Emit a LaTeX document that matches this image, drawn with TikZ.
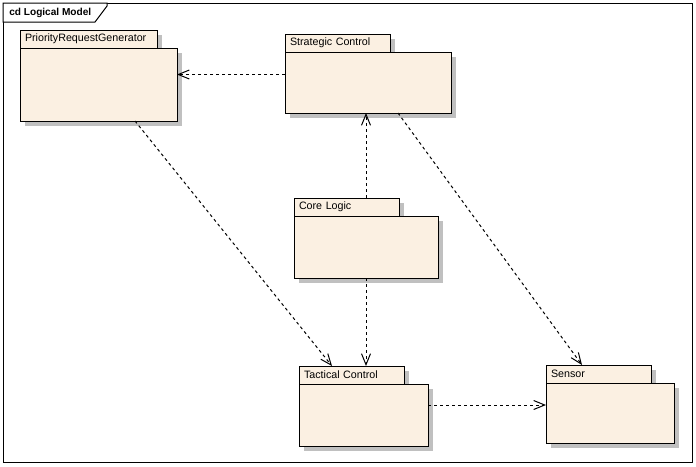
\documentclass[tikz,border=0pt]{standalone}
\usepackage{fontspec}
\setmainfont{Liberation Sans}
\usepackage{xcolor}
\usepackage{tikz}
\usetikzlibrary{arrows.meta,positioning,shadows}
\definecolor{pkgfill}{RGB}{251,240,226}
\definecolor{pkgshade}{RGB}{192,192,192}

\begin{document}
\begin{tikzpicture}[x=1pt,y=-1pt, line width=1pt,
  every node/.style={font=\fontsize{10.7}{13}\selectfont},
  pkgshadow/.style={drop shadow={shadow xshift=4.5pt,shadow yshift=-4.5pt,fill=pkgshade,opacity=1}},
  pkgtab/.style={draw, fill=pkgfill, pkgshadow, anchor=north west, inner xsep=5pt, inner ysep=0pt, outer sep=0pt, minimum height=18pt, text width=95pt, align=left},
  pkgbody/.style={draw, fill=pkgfill, pkgshadow, inner sep=0pt, outer sep=0pt},
  dep/.style={dash pattern=on 3pt off 3pt, -{Straight Barb[length=11pt,width=9pt]}}]
\useasboundingbox (0,0) rectangle (696,466);
\draw (3,3) rectangle (692,462);
\draw[fill=white] (3,3) -- (107,3) -- (107,6) -- (95,22) -- (3,22) -- cycle;
\node[anchor=west, font=\fontsize{10.1}{12}\selectfont\bfseries] (title) at (5.5,12.5) {cd Logical Model};

\node[pkgtab, text width=127pt] (prgtab) at (20,30) {PriorityRequestGenerator};
\node[pkgbody, minimum width=157pt, minimum height=73pt, below right=0pt and 0pt of prgtab.south west] (prg) {};
\node[pkgtab] (strattab) at (285,34) {Strategic Control};
\node[pkgbody, minimum width=166pt, minimum height=61pt, below right=0pt and 0pt of strattab.south west] (strat) {};
\node[pkgtab] (coretab) at (294,198) {Core Logic};
\node[pkgbody, minimum width=144pt, minimum height=62pt, below right=0pt and 0pt of coretab.south west] (core) {};
\node[pkgtab] (tactab) at (299,366) {Tactical Control};
\node[pkgbody, minimum width=129pt, minimum height=62pt, below right=0pt and 0pt of tactab.south west] (tac) {};
\node[pkgtab] (sensortab) at (546,365) {Sensor};
\node[pkgbody, minimum width=128pt, minimum height=60pt, below right=0pt and 0pt of sensortab.south west] (sensor) {};

\draw[dep] ([yshift=8pt]strat.west) -- ([yshift=8pt]strat.west -| prg.east);
\draw[dep] (coretab.north -| core.north) -- (strat.south -| core.north);
\draw[dep] (core.south) -- (core.south |- tactab.north);
\draw[dep] ([xshift=-42pt]prg.south east) -- ([xshift=33pt]tactab.north west);
\draw[dep] ([xshift=-53pt]strat.south east) -- ([xshift=36pt]sensortab.north west);
\draw[dep] ([yshift=10pt]tac.east) -- ([yshift=10pt]tac.east -| sensor.west);
\end{tikzpicture}
\end{document}
